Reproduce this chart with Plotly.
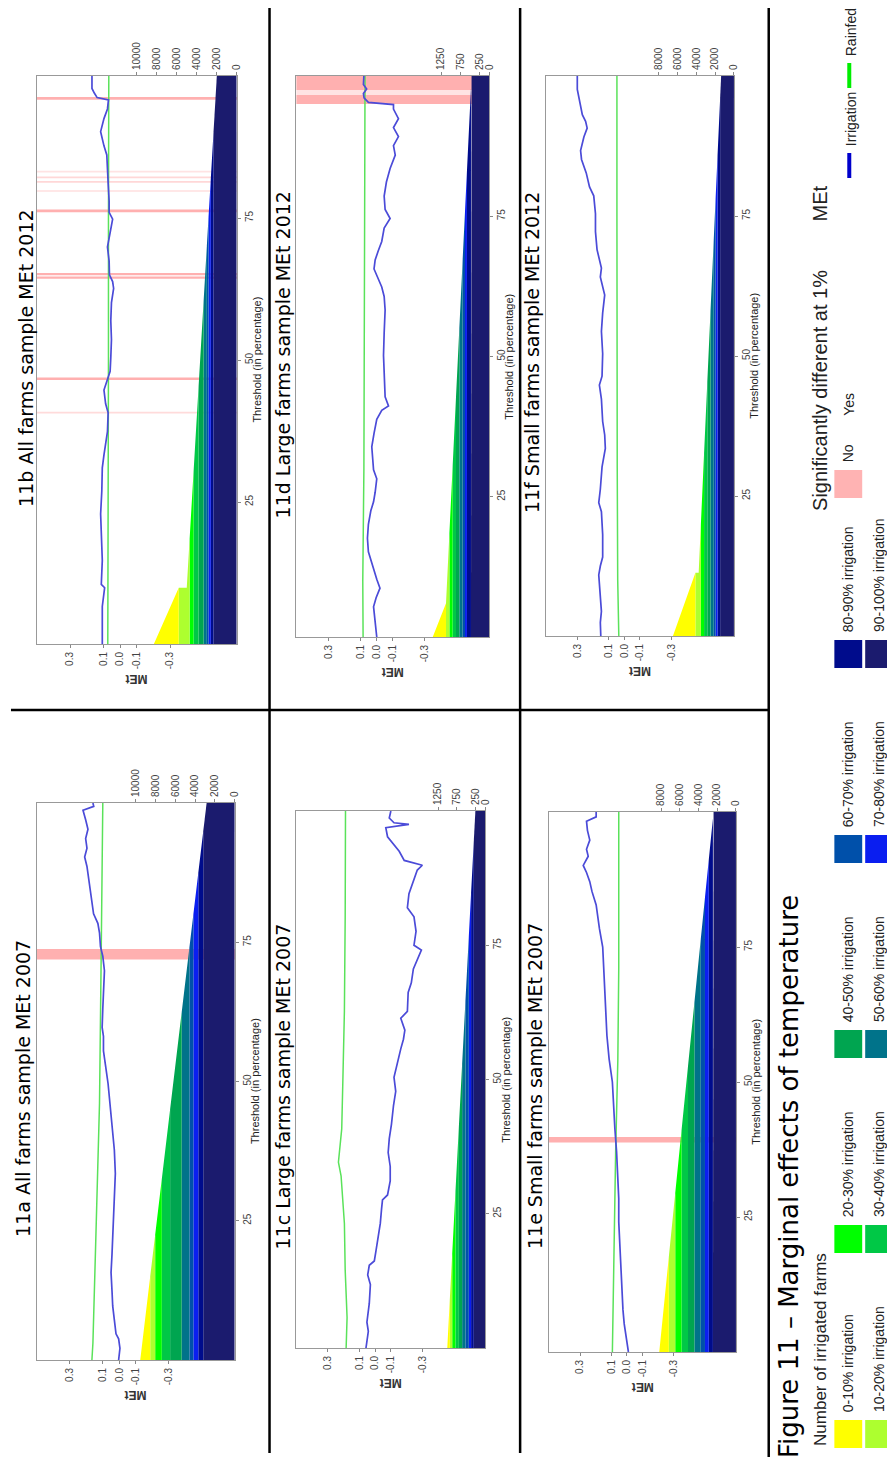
import numpy as np
import plotly.graph_objects as go

W, H = 895, 1457

# ---------------- data ----------------
band_labels = ["90-100% irrigation", "80-90% irrigation", "70-80% irrigation", "60-70% irrigation",
               "50-60% irrigation", "40-50% irrigation", "30-40% irrigation", "20-30% irrigation",
               "10-20% irrigation", "0-10% irrigation"]
band_colors = ["#1b1b6e", "#000c8c", "#0a1ef0", "#0050aa", "#00738a",
               "#00a550", "#00c846", "#00ff00", "#adff2f", "#ffff00"]

met_ticks = [0.3, 0.1, 0.0, -0.1, -0.3]
met_ticktext = ["0.3", "0.1", "0.0", "-0.1", "-0.3"]
thr_ticks = [25, 50, 75]

# 11a All farms 2007
irr_t_a = [0, 2.1, 3.8, 4.7, 7.2, 9.7, 12.3, 15.7, 19.1, 22.5, 25, 29.2, 33.5, 37.7, 41.9, 46.2, 49.6, 53,
           55.5, 58.1, 59.7, 63.1, 66.5, 69.9, 72.5, 74.2, 76.7, 78.4, 80.1, 81.8, 84.3, 86.9, 88.6, 90.3,
           91.9, 93.6, 95.3, 97, 98.7, 99.4, 100]
irr_v_a = [0.004, -0.004, 0.004, 0.02, 0.03, 0.04, 0.044, 0.05, 0.044, 0.04, 0.036, 0.03, 0.024, 0.03,
           0.044, 0.056, 0.068, 0.084, 0.096, 0.096, 0.104, 0.1, 0.096, 0.09, 0.1, 0.114, 0.12, 0.13, 0.156,
           0.164, 0.18, 0.19, 0.196, 0.21, 0.196, 0.204, 0.19, 0.204, 0.22, 0.155, 0.16]
rain_t_a = [0, 3, 20, 46, 72, 100]
rain_v_a = [0.166, 0.16, 0.144, 0.12, 0.11, 0.1]
sig_a = [(71.9, 73.8, 1.0)]
edges_a = [3180, 3680, 4180, 4580, 5360, 6530, 7370, 8040, 8540, 9550]
bound_t_a = [0, 100]
bound_n_a = [9550, 2840]

# 11b All farms 2012
irr_t_b = [0, 6.6, 9.9, 10.5, 14.7, 18.8, 22.9, 26.9, 31, 33.3, 35, 37.4, 40.7, 42.3, 44.7, 46.4, 48,
           50.4, 53.6, 56.9, 60.1, 62.6, 63.8, 65, 67.4, 69.9, 72.3, 74.8, 76, 78, 81.2, 83.6, 86.1, 87.7,
           90.2, 92.5, 94.2, 95.8, 96.2, 97, 97.8, 100]
irr_v_b = [0.107, 0.107, 0.093, 0.113, 0.107, 0.11, 0.117, 0.11, 0.107, 0.097, 0.087, 0.076, 0.072, 0.087,
           0.097, 0.076, 0.06, 0.056, 0.052, 0.056, 0.052, 0.039, 0.045, 0.064, 0.066, 0.076, 0.06, 0.045,
           0.066, 0.066, 0.072, 0.076, 0.08, 0.097, 0.117, 0.097, 0.076, 0.07, 0.138, 0.155, 0.169, 0.169]
rain_t_b = [0, 25, 50, 75, 100]
rain_v_b = [0.074, 0.071, 0.07, 0.07, 0.068]
sig_b = [(95.8, 96.3, 1.0), (83.0, 83.3, 0.35), (82.0, 82.3, 0.5), (81.2, 81.5, 0.5), (79.6, 79.9, 0.4),
         (76.0, 76.5, 1.0), (64.9, 65.3, 1.0), (64.3, 64.7, 1.0), (46.5, 46.9, 1.0), (40.6, 40.9, 0.45)]
edges_b = [2320, 2590, 2820, 2990, 3310, 3810, 4310, 4710, 5800, 8290]
bound_t_b = [0, 9.9, 9.9, 100]
bound_n_b = [8290, 5800, 5000, 1990]

# 11c Large farms 2007
irr_t_c = [0, 1.3, 3.1, 4.8, 8.3, 11.8, 13.6, 15.4, 16.2, 18, 20.6, 23.2, 25.9, 27.6, 28.5, 31.1, 33.8,
           36.4, 39, 41.7, 45.2, 47.8, 50.4, 53.9, 55.7, 57.5, 59.2, 61.4, 62.7, 66.2, 68, 70.6, 72.4, 74.1,
           75, 77.6, 80.3, 82, 84.6, 86.4, 89, 89.9, 90.8, 92.5, 95.2, 96.9, 97.5, 97.8, 98.7, 100]
irr_v_c = [0.058, 0.052, 0.043, 0.052, 0.037, 0.03, 0.047, 0.037, 0.005, -0.005, -0.02, -0.033, -0.041,
           -0.047, -0.079, -0.096, -0.096, -0.083, -0.09, -0.104, -0.117, -0.131, -0.12, -0.146, -0.163,
           -0.18, -0.189, -0.163, -0.205, -0.21, -0.23, -0.243, -0.268, -0.294, -0.247, -0.26, -0.247,
           -0.205, -0.215, -0.236, -0.268, -0.3, -0.185, -0.153, -0.079, -0.068, -0.215, -0.12, -0.09, -0.1]
rain_t_c = [0, 5.7, 10.1, 14.5, 23.2, 27.6, 32, 34.6, 38.2, 40.8, 49.6, 62.7, 80.3, 100]
rain_v_c = [0.184, 0.178, 0.184, 0.19, 0.195, 0.205, 0.216, 0.233, 0.22, 0.212, 0.205, 0.195, 0.19, 0.188]
sig_c = []
edges_c = [305, 376, 437, 526, 613, 700, 789, 876, 940, 1007]
bound_t_c = [0, 100]
bound_n_c = [1007, 263]

# 11d Large farms 2012
irr_t_d = [0, 3, 5.4, 7, 8.7, 10.3, 12.8, 15.2, 17.6, 20.1, 22.5, 24.1, 25.8, 28.2, 29.8, 31.5, 33.9, 36.3,
           38.8, 40.4, 41.2, 42.8, 46.1, 50.2, 54.2, 58.3, 60.7, 62.4, 65.6, 67.2, 68.9, 70.5, 72.9, 74.6,
           76.2, 78.6, 81.1, 83.5, 85.9, 87.6, 89.2, 90.8, 92.4, 94.1, 94.9, 95.3, 96.1, 96.9, 97.7, 98.5, 100]
irr_v_d = [0.0, 0.01, 0.02, 0.004, -0.02, 0.0, 0.025, 0.052, 0.058, 0.052, 0.037, 0.02, 0.01, 0.0, 0.02,
           0.023, 0.031, 0.017, 0.0, -0.031, -0.073, -0.052, -0.046, -0.042, -0.046, -0.052, -0.046, -0.031,
           0.017, 0.01, -0.01, -0.031, -0.046, -0.083, -0.052, -0.046, -0.06, -0.083, -0.115, -0.104, -0.135,
           -0.104, -0.135, -0.104, -0.104, 0.052, 0.079, 0.083, 0.063, 0.083, 0.08]
rain_t_d = [0, 10, 30, 50, 70, 90, 100]
rain_v_d = [0.085, 0.087, 0.08, 0.078, 0.076, 0.074, 0.073]
sig_d = [(95.0, 96.6, 1.0), (96.6, 97.5, 0.35), (97.5, 100, 1.0)]
edges_d = [475, 579, 630, 690, 776, 863, 949, 1034, 1122, 1466]
bound_t_d = [0, 6, 100]
bound_n_d = [1466, 1122, 460]

# 11e Small farms 2007
irr_t_e = [0, 2.6, 5.2, 7.8, 11.2, 15.5, 19.8, 24.1, 28.4, 32.8, 37.1, 41.4, 45.7, 50, 54.3, 58.6, 62.9,
           67.2, 71.6, 75, 78.4, 80.2, 82.8, 85.3, 87.1, 88.8, 90.1, 91.8, 93.1, 94.8, 96.6, 98.3, 99.1, 100]
irr_v_e = [-0.01, 0.004, 0.017, 0.025, 0.031, 0.037, 0.046, 0.052, 0.052, 0.058, 0.066, 0.077, 0.083,
           0.093, 0.114, 0.128, 0.135, 0.141, 0.149, 0.155, 0.176, 0.186, 0.197, 0.224, 0.238, 0.259, 0.28,
           0.248, 0.259, 0.238, 0.253, 0.259, 0.197, 0.197]
rain_t_e = [0, 20, 37, 54, 71, 100]
rain_v_e = [0.093, 0.083, 0.072, 0.058, 0.052, 0.052]
sig_e = [(38.8, 39.8, 1.0)]
edges_e = [2460, 2900, 3310, 3760, 4440, 5125, 5810, 6490, 7175, 8200]
bound_t_e = [0, 100]
bound_n_e = [8200, 2390]

# 11f Small farms 2012
irr_t_f = [0, 2.4, 4.4, 7.7, 10.9, 12.5, 14.1, 18.1, 22.2, 23.8, 26.2, 30.2, 33.5, 35.9, 38.3, 42.3, 44.8,
           46.4, 50.4, 54.4, 57.7, 60.9, 62.5, 64.1, 65.7, 69, 72.2, 75.4, 78.6, 80.2, 82.7, 85.1, 86.7, 89.1,
           90.7, 91.9, 93.1, 94.8, 96.8, 97.6, 100]
irr_v_f = [0.15, 0.153, 0.146, 0.157, 0.163, 0.153, 0.138, 0.138, 0.146, 0.163, 0.153, 0.142, 0.121, 0.125,
           0.138, 0.146, 0.159, 0.142, 0.138, 0.146, 0.138, 0.125, 0.138, 0.153, 0.146, 0.174, 0.184, 0.184,
           0.195, 0.222, 0.243, 0.273, 0.279, 0.258, 0.237, 0.247, 0.268, 0.279, 0.294, 0.3, 0.3]
rain_t_f = [0, 5, 10, 30, 50, 75, 100]
rain_v_f = [0.035, 0.038, 0.042, 0.045, 0.047, 0.047, 0.047]
sig_f = []
edges_f = [1465, 1740, 1945, 2150, 2490, 2830, 3175, 3515, 4100, 6490]
bound_t_f = [0, 11.3, 11.3, 100]
bound_n_f = [6490, 4100, 3750, 1360]

# ---------------- layout geometry (pixels) ----------------
panels = [
    dict(title="11a All farms sample MEt 2007", box=(29, 795, 228, 1352), tpos=(15, 1080), cmax=20000,
         cticks=[0, 2000, 4000, 6000, 8000, 10000], it=irr_t_a, iv=irr_v_a, rt=rain_t_a, rv=rain_v_a,
         sig=sig_a, edges=edges_a, bt=bound_t_a, bn=bound_n_a),
    dict(title="11b All farms sample MEt 2012", box=(29, 68, 230, 636), tpos=(18, 350), cmax=20000,
         cticks=[0, 2000, 4000, 6000, 8000, 10000], it=irr_t_b, iv=irr_v_b, rt=rain_t_b, rv=rain_v_b,
         sig=sig_b, edges=edges_b, bt=bound_t_b, bn=bound_n_b),
    dict(title="11c Large farms sample MEt 2007", box=(290, 803, 480, 1340), tpos=(277, 1078), cmax=5000,
         cticks=[0, 250, 750, 1250], it=irr_t_c, iv=irr_v_c, rt=rain_t_c, rv=rain_v_c,
         sig=sig_c, edges=edges_c, bt=bound_t_c, bn=bound_n_c),
    dict(title="11d Large farms sample MEt 2012", box=(290, 68, 484, 629), tpos=(277, 347), cmax=5000,
         cticks=[0, 250, 750, 1250], it=irr_t_d, iv=irr_v_d, rt=rain_t_d, rv=rain_v_d,
         sig=sig_d, edges=edges_d, bt=bound_t_d, bn=bound_n_d),
    dict(title="11e Small farms sample MEt 2007", box=(544, 804, 732, 1344), tpos=(530, 1078), cmax=20000,
         cticks=[0, 2000, 4000, 6000, 8000], it=irr_t_e, iv=irr_v_e, rt=rain_t_e, rv=rain_v_e,
         sig=sig_e, edges=edges_e, bt=bound_t_e, bn=bound_n_e),
    dict(title="11f Small farms sample MEt 2012", box=(541, 68, 730, 628), tpos=(527, 345), cmax=20000,
         cticks=[0, 2000, 4000, 6000, 8000], it=irr_t_f, iv=irr_v_f, rt=rain_t_f, rv=rain_v_f,
         sig=sig_f, edges=edges_f, bt=bound_t_f, bn=bound_n_f),
]


def px(x):
    return x / W


def py(y):
    return 1 - y / H


def band_poly(a, b, tn, nn):
    pts = []
    for i in range(len(tn) - 1):
        t0, t1, n0, n1 = tn[i], tn[i + 1], nn[i], nn[i + 1]
        pts.append((t0, n0))
        cuts = []
        for lvl in (a, b):
            if (n0 - lvl) * (n1 - lvl) < 0:
                f = (lvl - n0) / (n1 - n0)
                cuts.append((f, t0 + f * (t1 - t0), lvl))
        for f, t, lvl in sorted(cuts):
            pts.append((t, lvl))
    pts.append((tn[-1], nn[-1]))
    xs = [min(max(n, a), b) for t, n in pts] + [a, a]
    ys = [t for t, n in pts] + [tn[-1], tn[0]]
    return xs, ys


fig = go.Figure()
layout = dict(width=W, height=H, margin=dict(l=0, r=0, t=0, b=0), paper_bgcolor="white",
              plot_bgcolor="white", showlegend=False)
shapes = []
annotations = []
tickfont = dict(family="Liberation Sans, Arial, sans-serif", size=10, color="#444444")

for i, p in enumerate(panels):
    x0, y0, x1, y1 = p["box"]
    xm = "x" if i == 0 else f"x{2 * i + 1}"
    xc = f"x{2 * i + 2}"
    ya = "y" if i == 0 else f"y{i + 1}"
    xm_key = "xaxis" if i == 0 else f"xaxis{2 * i + 1}"
    xc_key = f"xaxis{2 * i + 2}"
    ya_key = "yaxis" if i == 0 else f"yaxis{i + 1}"
    dom_x = [px(x0), px(x1)]
    dom_y = [py(y1), py(y0)]
    layout[xm_key] = dict(domain=dom_x, anchor=ya, range=[0.5, -0.7], tickvals=met_ticks,
                          ticktext=met_ticktext, tickangle=-90, ticks="outside", ticklen=3,
                          tickcolor="#888", tickfont=tickfont, showgrid=False, zeroline=False,
                          showline=True, linecolor="#999999", linewidth=1, mirror=True, fixedrange=True)
    layout[xc_key] = dict(overlaying=xm, anchor=ya, side="top", range=[p["cmax"], 0],
                          tickvals=p["cticks"], ticktext=[str(v) for v in p["cticks"]],
                          tickangle=-90, ticks="outside", ticklen=3, tickcolor="#888",
                          tickfont=tickfont, showgrid=False, zeroline=False, showline=False,
                          fixedrange=True)
    layout[ya_key] = dict(domain=dom_y, anchor=xm, side="right", range=[0, 100], tickvals=thr_ticks,
                          ticktext=[str(v) for v in thr_ticks], tickangle=-90, ticks="outside",
                          ticklen=3, tickcolor="#888", tickfont=tickfont, showgrid=False,
                          zeroline=False, showline=True, linecolor="#999999", linewidth=1,
                          mirror=True, fixedrange=True)

    for (s0, s1, lev) in p["sig"]:
        shapes.append(dict(type="rect", xref=f"{xm} domain", yref=ya, x0=0, x1=1, y0=s0, y1=s1,
                           fillcolor="#ffb0b0", opacity=lev, line=dict(width=0), layer="below"))

    fig.add_trace(go.Scatter(x=p["rv"], y=p["rt"], xaxis=xm, yaxis=ya, mode="lines",
                             line=dict(color="#5ae25a", width=1.5), hoverinfo="skip"))
    fig.add_trace(go.Scatter(x=p["iv"], y=p["it"], xaxis=xm, yaxis=ya, mode="lines",
                             line=dict(color="#4b4bd8", width=1.7), hoverinfo="skip"))

    edges = p["edges"]
    for k in range(len(edges)):
        a = 0 if k == 0 else edges[k - 1]
        b = edges[k]
        xs, ys = band_poly(a, b, p["bt"], p["bn"])
        fig.add_trace(go.Scatter(x=xs, y=ys, xaxis=xc, yaxis=ya, mode="lines", fill="toself",
                                 fillcolor=band_colors[k], line=dict(width=0, color=band_colors[k]),
                                 hoverinfo="skip"))

    annotations.append(dict(text=p["title"], x=px(p["tpos"][0]), y=py(p["tpos"][1]), xref="paper",
                            yref="paper", showarrow=False, textangle=-90,
                            font=dict(family="DejaVu Sans", size=19, color="black"),
                            xanchor="center", yanchor="middle"))
    annotations.append(dict(text="Threshold (in percentage)", x=px(x1 + 20), y=py((y0 + y1) / 2),
                            xref="paper", yref="paper", showarrow=False, textangle=-90,
                            font=dict(family="Liberation Sans, Arial", size=11, color="#222"),
                            xanchor="center", yanchor="middle"))
    annotations.append(dict(text="<b>MEt</b>", x=px((x0 + x1) / 2), y=py(y1 + 35), xref="paper",
                            yref="paper", showarrow=False, textangle=180,
                            font=dict(family="Liberation Sans, Arial", size=12, color="#333"),
                            xanchor="center", yanchor="middle"))

for (ax0, ay0, ax1, ay1) in [(263, 0, 263, 1445), (515, 0, 515, 1445), (765, 0, 765, 1457),
                             (3, 702, 765, 702)]:
    shapes.append(dict(type="line", xref="paper", yref="paper", x0=px(ax0), y0=py(ay0), x1=px(ax1),
                       y1=py(ay1), line=dict(color="black", width=2.5)))

# ---------------- legend (rotated) ----------------
lab_font = dict(family="Liberation Sans, Arial", size=14, color="#222")
head_font = dict(family="Liberation Sans, Arial", size=20, color="#222")


def vtext(txt, x, ybottom, font, anchor="bottom"):
    annotations.append(dict(text=txt, x=px(x), y=py(ybottom), xref="paper", yref="paper",
                            showarrow=False, textangle=-90, font=font, xanchor="center",
                            yanchor=anchor))


annotations.append(dict(text="Figure 11 \u2013 Marginal effects of temperature", x=px(785), y=py(1452),
                        xref="paper", yref="paper", showarrow=False, textangle=-90,
                        font=dict(family="DejaVu Sans", size=26, color="black"),
                        xanchor="center", yanchor="bottom"))
vtext("Number of irrigated farms", 817, 1440, dict(family="Liberation Sans, Arial", size=17, color="#222"))

leg_order = list(range(9, -1, -1))
col_x = [845, 876]
pitch = 195
for j, k in enumerate(leg_order):
    col = j % 2
    row = j // 2
    ybot = 1440 - pitch * row
    xc = col_x[col]
    shapes.append(dict(type="rect", xref="paper", yref="paper", x0=px(xc - 14), x1=px(xc + 14),
                       y0=py(ybot), y1=py(ybot - 28), fillcolor=band_colors[k], line=dict(width=0)))
    vtext(band_labels[k], xc, ybot - 34, lab_font)

vtext("Significantly different at 1%", 817, 505, head_font)
shapes.append(dict(type="rect", xref="paper", yref="paper", x0=px(831), x1=px(859),
                   y0=py(490), y1=py(462), fillcolor="#ffb3b3", line=dict(width=0)))
vtext("No", 845, 456, lab_font)
vtext("Yes", 845, 410, lab_font)

vtext("MEt", 817, 215, head_font)
shapes.append(dict(type="line", xref="paper", yref="paper", x0=px(846), x1=px(846), y0=py(170),
                   y1=py(145), line=dict(color="#0000cc", width=4)))
vtext("Irrigation", 848, 140, lab_font)
shapes.append(dict(type="line", xref="paper", yref="paper", x0=px(846), x1=px(846), y0=py(80),
                   y1=py(55), line=dict(color="#00ee00", width=4)))
vtext("Rainfed", 848, 50, lab_font)

layout["shapes"] = shapes
layout["annotations"] = annotations
fig.update_layout(**layout)
fig.write_html("out.html")
